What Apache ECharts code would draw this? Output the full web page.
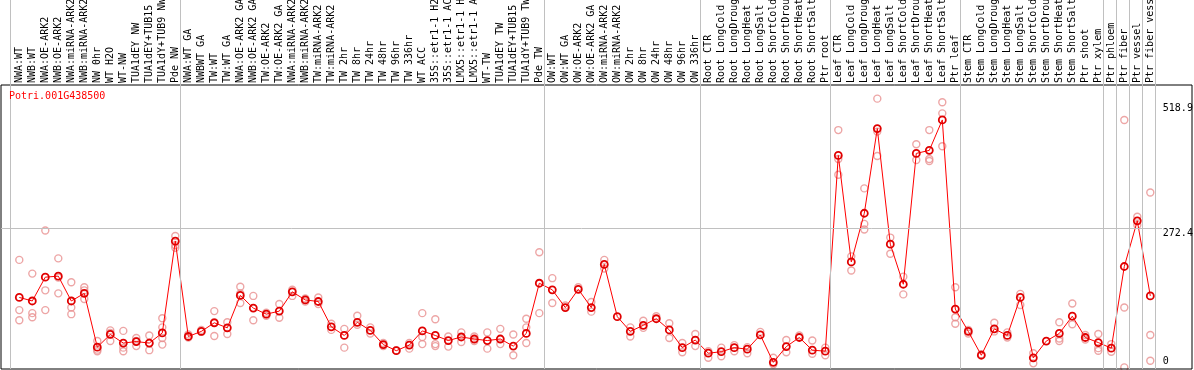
<!DOCTYPE html>
<html>
<head>
<meta charset="utf-8">
<script src="https://cdn.jsdelivr.net/npm/echarts@6/dist/echarts.min.js"></script>
<style>
html,body{margin:0;padding:0;background:#fff;}
#chart{width:1194px;height:370px;}
</style>
</head>
<body>
<div id="chart"></div>
<script>
const geneId = 'Potri.001G438500';

const categories = [
  'NWA:WT','NWB:WT','NWA:OE-ARK2','NWB:OE-ARK2','NWA:miRNA-ARK2','NWB:miRNA-ARK2','NW 0hr','WT H2O','WT-NW','TUA1dEY NW','TUA1dEY+TUB15','TUA1dY+TUB9 NW','Pde NW',
  'NWA:WT GA','NWBWT GA','TW:WT','TW:WT GA','NWA:OE-ARK2 GA','NWB:OE-ARK2 GA','TW:OE-ARK2','TW:OE-ARK2 GA','NWA:miRNA-ARK2','NWB:miRNA-ARK2','TW:miRNA-ARK2','TW:miRNA-ARK2',
  'TW 2hr','TW 8hr','TW 24hr','TW 48hr','TW 96hr','TW 336hr','WT ACC','35S::etr1-1 H2O','35S::etr1-1 ACC','LMX5::etr1-1 H2O','LMX5::etr1-1 ACC','WT-TW','TUA1dEY TW','TUA1dEY+TUB15','TUA1dY+TUB9 TW','Pde TW',
  'OW:WT','OW:WT GA','OW:OE-ARK2','OW:OE-ARK2 GA','OW:miRNA-ARK2','OW:miRNA-ARK2','OW 2hr','OW 8hr','OW 24hr','OW 48hr','OW 96hr','OW 336hr',
  'Root CTR','Root LongCold','Root LongDrought','Root LongHeat','Root LongSalt','Root ShortCold','Root ShortDrought','Root ShortHeat','Root ShortSalt','Ptr root',
  'Leaf CTR','Leaf LongCold','Leaf LongDrought','Leaf LongHeat','Leaf LongSalt','Leaf ShortCold','Leaf ShortDrought','Leaf ShortHeat','Leaf ShortSalt','Ptr leaf',
  'Stem CTR','Stem LongCold','Stem LongDrought','Stem LongHeat','Stem LongSalt','Stem ShortCold','Stem ShortDrought','Stem ShortHeat','Stem ShortSalt','Ptr shoot','Ptr xylem',
  'Ptr phloem','Ptr fiber','Ptr vessel','Ptr fiber vessel'
];

const means = [
  136,129,176,178,129,144,38,63,46,49,46,66,247,
  59,69,86,76,140,115,103,109,147,131,128,78,
  61,87,71,43,31,42,70,61,51,58,54,51,54,40,65,164,
  151,116,152,116,201,98,69,81,94,72,37,52,
  26,29,37,34,62,8,39,57,32,30,
  416,206,302,469,241,162,420,426,486,113,
  69,22,74,61,136,17,50,65,99,57,47,
  36,197,287,139
];

const replicates = [
  [210,111,91],[183,105,97],[268,150,111],[213,144,175],[166,116,103],[156,150,133],[50,33,30],[71,50,66],[70,37,30],[56,40,50],[61,32,46],[95,77,43,56],[257,239,234],
  [63,57],[72,68],[109,60,87],[87,64],[157,125,144],[139,91],[106,100],[123,96],[151,139],[134,128],[136,123],[84,72],
  [74,37],[100,82],[77,65],[46,40],[32],[46,35],[105,58,44],[93,44,40],[59,39],[67,48],[59,50],[67,35],[74,44],[63,22],[94,46,77],[225,105],
  [174,125],[120],[156],[127,108],[210,193],[],[77,59],[90,76],[99],[85,56],[46,28],[64,40],
  [17,30],[37,20],[42,30],[38,26],[68],[17,4],[52,28],[61],[51,25],[37,22],
  [466,378,409],[217,189],[351,281,270],[528,415,463],[254,222],[177,142],[438,407],[466,409,405],[521,499,434],[156,97,84],
  [72,65],[24],[86,69],[67,57],[143,121],[26,6],[],[87,50,55],[124,83],[62,53],[64,36,31],
  [44,29],[486,116,-2],[295,279],[343,62,11]
];

// group separators (in category index units)
const groupBreaks = [-0.72, 12.38, 40.38, 52.38, 62.38, 72.38, 83.38, 84.38, 85.38, 86.38, 87.38];
const yLabelsTop = [518.9, 272.4];
const yLabelsBottom = [0];
const refLineValue = 272.4;

const Y_MIN = -5.13, Y_MAX = 554.9, Y_MAX_FULL = 722.5;
const X_MIN = -1.408, X_MAX = 90.208;
const FONT = 'DejaVu Sans Mono';

const repData = [];
replicates.forEach((arr, i) => arr.forEach(v => repData.push([i, v])));

const chart = echarts.init(document.getElementById('chart'), null, {renderer: 'canvas'});

const vLines = groupBreaks.map(x => ({xAxis: x}));
const hLine = [{coord: [X_MIN, refLineValue]}, {coord: [87.9, refLineValue]}];

chart.setOption({
  animation: false,
  backgroundColor: '#fff',
  title: {
    text: geneId, left: 9, top: 91, padding: 0,
    textStyle: {fontFamily: FONT, fontSize: 10, fontWeight: 'normal', color: '#ff0000'}
  },
  grid: [
    {left: 1, top: 0, width: 1191, height: 369, show: false, containLabel: false, outerBoundsMode: 'none'},
    {left: 12.8, top: 85, width: 1144, height: 284, show: false, containLabel: false, outerBoundsMode: 'none'},
    {left: 1, top: 85, width: 1191, height: 284, show: true, borderColor: '#000', borderWidth: 1, backgroundColor: 'transparent', z: 5, containLabel: false, outerBoundsMode: 'none'}
  ],
  xAxis: [
    {type: 'value', gridIndex: 0, min: X_MIN, max: X_MAX, show: false},
    {type: 'category', gridIndex: 1, data: categories, position: 'top', boundaryGap: true,
     axisLine: {show: false}, axisTick: {show: false}, splitLine: {show: false},
     axisLabel: {rotate: 90, interval: 0, margin: 2, hideOverlap: false, fontFamily: FONT, fontSize: 10, color: '#000'}},
    {type: 'value', gridIndex: 2, min: 0, max: 1, show: false}
  ],
  yAxis: [
    {type: 'value', gridIndex: 0, min: Y_MIN, max: Y_MAX_FULL, show: false},
    {type: 'value', gridIndex: 1, min: Y_MIN, max: Y_MAX, position: 'right',
     axisLine: {show: false}, axisTick: {show: false}, splitLine: {show: false},
     axisLabel: {customValues: yLabelsTop, showMinLabel: true, showMaxLabel: true, margin: 6, verticalAlign: 'top', align: 'left',
       fontFamily: FONT, fontSize: 10, color: '#000', lineHeight: 10}},
    {type: 'value', gridIndex: 1, min: Y_MIN, max: Y_MAX, position: 'right',
     axisLine: {show: false}, axisTick: {show: false}, splitLine: {show: false},
     axisLabel: {customValues: yLabelsBottom, margin: 6, verticalAlign: 'bottom', align: 'left',
       fontFamily: FONT, fontSize: 10, color: '#000', lineHeight: 10}},
    {type: 'value', gridIndex: 2, min: 0, max: 1, show: false}
  ],
  series: [
    {
      type: 'line', xAxisIndex: 0, yAxisIndex: 0, data: [], silent: true,
      markLine: {
        silent: true, symbol: 'none', label: {show: false}, animation: false,
        lineStyle: {color: '#c0c0c0', width: 1, type: 'solid'},
        emphasis: {disabled: true},
        data: vLines.concat([hLine])
      }
    },
    {
      name: 'replicates', type: 'scatter', xAxisIndex: 1, yAxisIndex: 1, data: repData,
      symbol: 'circle', symbolSize: 7, silent: true, z: 3,
      itemStyle: {color: 'rgba(255,255,255,0)', borderColor: '#e89090', borderWidth: 1.4}
    },
    {
      name: 'mean', type: 'line', xAxisIndex: 1, yAxisIndex: 1, data: means,
      symbol: 'circle', symbolSize: 7, showAllSymbol: true, silent: true, z: 4,
      lineStyle: {color: '#ff0000', width: 1},
      itemStyle: {color: 'rgba(255,255,255,0)', borderColor: '#e00000', borderWidth: 1.8}
    }
  ]
});
</script>
</body>
</html>
